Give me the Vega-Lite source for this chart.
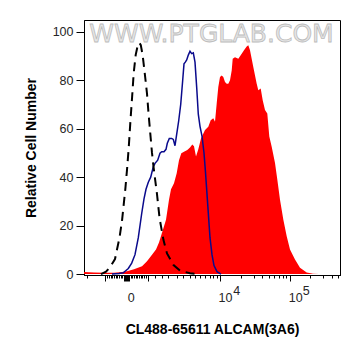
{
  "$schema": "https://vega.github.io/schema/vega-lite/v6.json",
  "width": 256,
  "height": 255,
  "autosize": "none",
  "padding": {"left": 84, "top": 20, "right": 21, "bottom": 81},
  "config": {
    "view": {"stroke": "#000000", "strokeWidth": 1},
    "axis": {
      "grid": false,
      "domainColor": "#000000",
      "tickColor": "#000000",
      "tickWidth": 1,
      "labelFont": "Liberation Sans",
      "labelFontSize": 12.5,
      "labelColor": "#262626",
      "titleFont": "Liberation Sans",
      "titleFontSize": 14,
      "titleFontWeight": "bold",
      "titleColor": "#000000"
    }
  },
  "resolve": {"axis": {"x": "independent"}},
  "datasets": {
    "sample": [
      {"ch": 0, "count": 0.8}, {"ch": 5, "count": 0.7}, {"ch": 10, "count": 0.6}, {"ch": 20, "count": 0.5},
      {"ch": 30, "count": 0.5}, {"ch": 38, "count": 0.8}, {"ch": 43, "count": 1.1}, {"ch": 50, "count": 2},
      {"ch": 58, "count": 3.2}, {"ch": 63, "count": 5.3}, {"ch": 68, "count": 8}, {"ch": 72, "count": 10.1},
      {"ch": 75, "count": 13}, {"ch": 78, "count": 17}, {"ch": 82, "count": 22.4}, {"ch": 85, "count": 30.7},
      {"ch": 87, "count": 35}, {"ch": 90, "count": 37.5}, {"ch": 92.7, "count": 41.6}, {"ch": 95, "count": 47},
      {"ch": 97.3, "count": 49.9}, {"ch": 100, "count": 50.5}, {"ch": 103.3, "count": 51.2}, {"ch": 106, "count": 52.3},
      {"ch": 108.3, "count": 53.5}, {"ch": 110, "count": 52.8}, {"ch": 112, "count": 48.5}, {"ch": 114.3, "count": 51.5},
      {"ch": 117, "count": 56}, {"ch": 121, "count": 59.5}, {"ch": 124.3, "count": 60.8}, {"ch": 126.7, "count": 63.5},
      {"ch": 129.3, "count": 64.3}, {"ch": 131, "count": 62.9}, {"ch": 132.7, "count": 70.4}, {"ch": 134.3, "count": 77.2},
      {"ch": 136, "count": 81.4}, {"ch": 137.7, "count": 82}, {"ch": 139.3, "count": 81.4}, {"ch": 141, "count": 79.3},
      {"ch": 142.7, "count": 78.6}, {"ch": 144.3, "count": 78.6}, {"ch": 146, "count": 80}, {"ch": 147.7, "count": 84},
      {"ch": 148.7, "count": 88.9}, {"ch": 151, "count": 89.5}, {"ch": 154.3, "count": 88.9}, {"ch": 157.7, "count": 91},
      {"ch": 160, "count": 92.4}, {"ch": 162.7, "count": 94}, {"ch": 164.3, "count": 94.5}, {"ch": 166, "count": 92.4},
      {"ch": 169.3, "count": 85.5}, {"ch": 172.7, "count": 78.6}, {"ch": 174.3, "count": 75.9}, {"ch": 176.7, "count": 76.6},
      {"ch": 178.7, "count": 71.8}, {"ch": 181, "count": 67.7}, {"ch": 183.3, "count": 66.3}, {"ch": 185.3, "count": 56.8},
      {"ch": 187.7, "count": 52.6}, {"ch": 191, "count": 45.8}, {"ch": 193.3, "count": 39}, {"ch": 196, "count": 30.7},
      {"ch": 199.3, "count": 22.5}, {"ch": 202.7, "count": 15.6}, {"ch": 206, "count": 10.1}, {"ch": 211, "count": 6},
      {"ch": 216, "count": 2.6}, {"ch": 222.7, "count": 0.6}, {"ch": 229, "count": 0.1}, {"ch": 235, "count": 0},
      {"ch": 256, "count": 0}
    ],
    "control": [
      {"ch": 28, "count": 0}, {"ch": 35, "count": 0.2}, {"ch": 39.3, "count": 0.5}, {"ch": 44.3, "count": 2.3},
      {"ch": 47.7, "count": 4.5}, {"ch": 51, "count": 8}, {"ch": 54.3, "count": 15}, {"ch": 57.7, "count": 25},
      {"ch": 60, "count": 31}, {"ch": 62, "count": 35}, {"ch": 64.3, "count": 37.9}, {"ch": 66.7, "count": 40},
      {"ch": 69.3, "count": 44.3}, {"ch": 71, "count": 45.7}, {"ch": 73.7, "count": 47}, {"ch": 76, "count": 49.9},
      {"ch": 77.7, "count": 50.5}, {"ch": 80, "count": 50.5}, {"ch": 82, "count": 51.5}, {"ch": 83.3, "count": 54},
      {"ch": 85.3, "count": 56}, {"ch": 87.7, "count": 56}, {"ch": 89.3, "count": 55.6}, {"ch": 91, "count": 53},
      {"ch": 92.7, "count": 57.8}, {"ch": 94.7, "count": 63.3}, {"ch": 96.7, "count": 70}, {"ch": 98.7, "count": 80},
      {"ch": 100, "count": 86.8}, {"ch": 101.3, "count": 87.5}, {"ch": 102.7, "count": 88.4}, {"ch": 104.3, "count": 90.4},
      {"ch": 106, "count": 92}, {"ch": 107.7, "count": 91}, {"ch": 109.3, "count": 91.3}, {"ch": 111, "count": 87.5},
      {"ch": 112.7, "count": 77}, {"ch": 114.3, "count": 66}, {"ch": 116, "count": 61}, {"ch": 118, "count": 57},
      {"ch": 120, "count": 50}, {"ch": 121.5, "count": 42}, {"ch": 123, "count": 33}, {"ch": 124.5, "count": 24},
      {"ch": 126, "count": 15}, {"ch": 128, "count": 8}, {"ch": 130, "count": 3.5}, {"ch": 133, "count": 1},
      {"ch": 137, "count": 0}
    ],
    "isotype": [
      {"ch": 17, "count": 0}, {"ch": 22, "count": 1}, {"ch": 26, "count": 2.8}, {"ch": 31, "count": 6.2},
      {"ch": 35.5, "count": 15}, {"ch": 38, "count": 22}, {"ch": 41.3, "count": 35}, {"ch": 43, "count": 43},
      {"ch": 44.7, "count": 52}, {"ch": 46.4, "count": 63}, {"ch": 48.1, "count": 73}, {"ch": 49.7, "count": 83},
      {"ch": 51.7, "count": 90.5}, {"ch": 53.8, "count": 94.5}, {"ch": 55.3, "count": 95.5}, {"ch": 56.8, "count": 94.5},
      {"ch": 58.6, "count": 90.5}, {"ch": 60.6, "count": 83.5}, {"ch": 63, "count": 74.5}, {"ch": 64.6, "count": 66},
      {"ch": 66.3, "count": 58}, {"ch": 68, "count": 50}, {"ch": 69.6, "count": 44}, {"ch": 73, "count": 33},
      {"ch": 75.6, "count": 23}, {"ch": 79.5, "count": 14}, {"ch": 83, "count": 8.5}, {"ch": 89.5, "count": 3.7},
      {"ch": 96, "count": 1.4}, {"ch": 106, "count": 0.3}, {"ch": 116, "count": 0}
    ]
  },
  "layer": [
    {
      "data": {"name": "sample"},
      "mark": {"type": "area", "color": "#ff0000"},
      "encoding": {
        "x": {
          "field": "ch", "type": "quantitative",
          "scale": {"domain": [0, 256], "nice": false, "zero": false},
          "axis": {
            "orient": "bottom",
            "title": "CL488-65611 ALCAM(3A6)",
            "values": [46.6, 141, 211.3],
            "labelExpr": "datum.value < 100 ? '0' : '10'",
            "ticks": false,
            "labelPadding": 16,
            "labelBaseline": "top",
            "labelOverlap": false,
            "labelFlush": false,
            "titlePadding": 19
          }
        },
        "y": {
          "field": "count", "type": "quantitative",
          "scale": {"domain": [-0.4, 104.9], "nice": false, "zero": false},
          "axis": {
            "title": "Relative Cell Number",
            "values": [0, 5, 10, 15, 20, 25, 30, 35, 40, 45, 50, 55, 60, 65, 70, 75, 80, 85, 90, 95, 100, 105],
            "labelExpr": "datum.value % 20 == 0 ? datum.label : ''",
            "tickSize": {"condition": {"test": "datum.value % 20 == 0", "value": 8}, "value": 4},
            "labelPadding": 3,
            "labelOverlap": false,
            "titlePadding": 14
          }
        }
      }
    },
    {
      "data": {"name": "control"},
      "mark": {"type": "line", "color": "#0a0a8c", "strokeWidth": 1.5},
      "encoding": {
        "x": {
          "field": "ch", "type": "quantitative",
          "scale": {"domain": [0, 256], "nice": false, "zero": false},
          "axis": {
            "orient": "bottom",
            "title": null,
            "values": [20.7, 40, 41, 42, 43, 44, 45, 64.3, 136, 205.5],
            "tickSize": 6,
            "labels": false
          }
        },
        "y": {"field": "count", "type": "quantitative", "scale": {"domain": [-0.4, 104.9], "nice": false, "zero": false}}
      }
    },
    {
      "data": {"name": "isotype"},
      "mark": {"type": "line", "color": "#000000", "strokeWidth": 2, "strokeDash": [9, 6]},
      "encoding": {
        "x": {
          "field": "ch", "type": "quantitative",
          "scale": {"domain": [0, 256], "nice": false, "zero": false},
          "axis": {
            "orient": "bottom",
            "title": null,
            "values": [3, 23.3, 25, 26.7, 28.3, 30, 31.7, 33.3, 35, 36.7, 38.3, 46.7, 48.3, 50, 51.7, 53.3, 55, 56.7, 58.3, 60, 61.7, 71, 77.7, 84.3, 92.7, 99.3, 106, 111, 116, 121, 126, 129.3, 132.7, 157, 169.5, 178, 184.5, 190, 194.5, 198.5, 202, 226, 239, 247.5, 253.5],
            "tickSize": 3,
            "labels": false
          }
        },
        "y": {"field": "count", "type": "quantitative", "scale": {"domain": [-0.4, 104.9], "nice": false, "zero": false}}
      }
    },
    {
      "data": {"values": [{}]},
      "mark": {"type": "text", "font": "DejaVu Sans", "fontSize": 25, "fill": "#e6e6e6", "stroke": "#bcbcbc", "strokeWidth": 0.8, "align": "center", "baseline": "middle"},
      "encoding": {
        "x": {
          "datum": 127.5, "type": "quantitative",
          "scale": {"domain": [0, 256], "nice": false, "zero": false},
          "axis": {
            "orient": "bottom",
            "title": null,
            "values": [152.2, 221.8],
            "labelExpr": "datum.value < 200 ? '4' : '5'",
            "ticks": false,
            "domain": false,
            "labelPadding": 9,
            "labelBaseline": "top",
            "labelOverlap": false,
            "labelFlush": false
          }
        },
        "y": {"datum": 99, "type": "quantitative", "scale": {"domain": [-0.4, 104.9], "nice": false, "zero": false}},
        "text": {"value": "WWW.PTGLAB.COM"}
      }
    }
  ]
}
